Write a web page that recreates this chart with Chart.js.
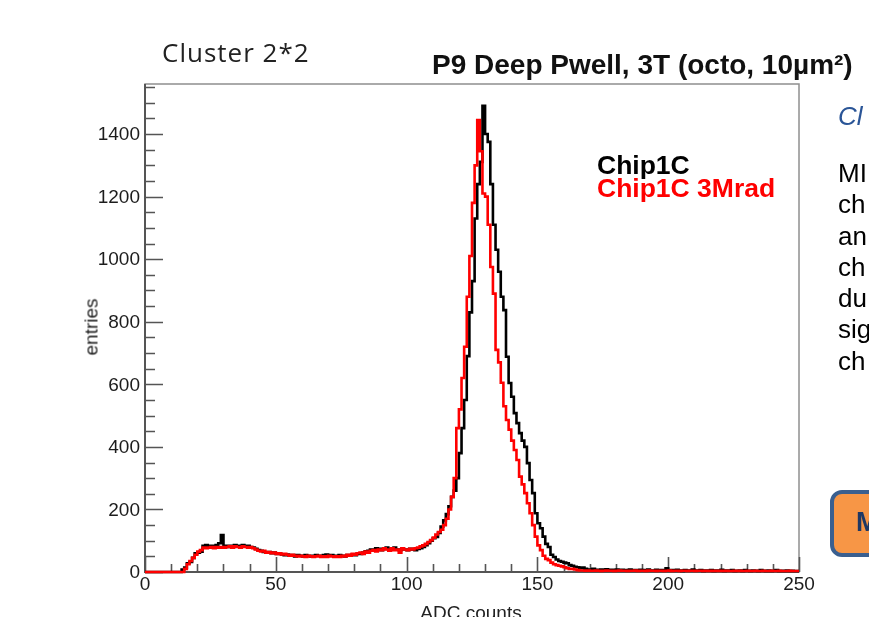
<!DOCTYPE html>
<html>
<head>
<meta charset="utf-8">
<title>P9 Deep Pwell, 3T</title>
<script src="https://cdn.jsdelivr.net/npm/chart.js@4.4.0/dist/chart.umd.min.js"></script>
<style>
  html, body { margin: 0; padding: 0; background: #fff; }
  body { width: 869px; height: 617px; position: relative; overflow: hidden; font-family: "Liberation Sans", Arial, sans-serif; }
  #histo { position: absolute; left: 0; top: 0; }
  .t { position: absolute; white-space: nowrap; line-height: 1; }
  #cluster { left: 162px; top: 39px; font-family: "Open Sans", sans-serif; font-size: 26px; letter-spacing: 1px; color: #222; }
  #title { left: 432px; top: 51px; font-size: 28px; font-weight: bold; color: #111; }
  .leg { left: 597px; font-size: 26.5px; font-weight: bold; }
  #ytitle { left: 91px; top: 327px; font-size: 19px; color: #222; transform: translate(-50%, -50%) rotate(-90deg); }
  #xtitle { left: 471px; top: 603px; font-size: 19px; color: #222; transform: translateX(-50%); }
  #side { left: 838px; top: 103px; }
  #side .sub { font-size: 26px; font-style: italic; color: #2a5597; line-height: 1; }
  #side .body { margin-top: 29px; font-size: 26px; line-height: 31.3px; color: #000; }
  #btn { position: absolute; left: 830px; top: 490px; width: 90px; height: 59px; background: #f79646; border: 4px solid #3a5f8f; border-radius: 12px; }
  #btn span { position: absolute; left: 22px; top: 15px; font-size: 27px; font-weight: bold; color: #1f3864; line-height: 1; }
</style>
</head>
<body>
<canvas id="histo" width="869" height="617"></canvas>

<div class="t" id="cluster">Cluster 2*2</div>
<div class="t" id="title">P9 Deep Pwell, 3T (octo, 10µm²)</div>
<div class="t leg" id="leg0" style="top:151.5px;color:#000">Chip1C</div>
<div class="t leg" id="leg1" style="top:174.5px;color:#ff0000">Chip1C 3Mrad</div>
<div class="t" id="ytitle">entries</div>
<div class="t" id="xtitle">ADC counts</div>
<div class="t" id="side">
  <div class="sub">Cl</div>
  <div class="body">MI<br>ch<br>an<br>ch<br>du<br>sig<br>ch</div>
</div>
<div id="btn"><span>M</span></div>

<script>
// ADC counts, 1 count per bin, bins 0..249
const seriesNames = ['Chip1C', 'Chip1C 3Mrad'];

const chip1c = [
    0, 0, 0, 0, 0, 0, 0, 0, 0, 0,
    0, 0, 0, 0, 0, 8, 14, 28, 32, 45,
    60, 62, 65, 84, 86, 80, 84, 82, 86, 92,
    118, 84, 80, 84, 80, 86, 82, 84, 86, 82,
    84, 80, 78, 74, 70, 68, 64, 62, 64, 60,
    62, 58, 60, 56, 54, 56, 52, 54, 50, 54,
    52, 50, 54, 52, 50, 52, 54, 52, 50, 54,
    56, 52, 54, 50, 52, 54, 52, 50, 54, 52,
    56, 54, 60, 58, 62, 66, 68, 72, 70, 76,
    74, 70, 74, 78, 72, 74, 78, 72, 70, 74,
    72, 70, 74, 72, 70, 74, 76, 80, 86, 92,
    100, 108, 112, 125, 145, 165, 185, 210, 240, 260,
    300, 380, 460, 550, 690, 830, 930, 1130, 1240, 1311,
    1490, 1400, 1375, 1240, 1110, 1030, 960, 880, 837, 688,
    604, 560, 508, 476, 444, 420, 400, 348, 294, 252,
    188, 156, 140, 113, 90, 80, 55, 48, 40, 35,
    33, 30, 28, 22, 20, 17, 15, 12, 14, 10,
    8, 6, 10, 7, 5, 8, 6, 9, 5, 7,
    6, 8, 5, 7, 4, 6, 8, 5, 6, 4,
    7, 5, 6, 8, 4, 5, 7, 5, 6, 4,
    12, 5, 6, 4, 7, 5, 3, 6, 4, 5,
    8, 4, 5, 6, 3, 5, 4, 6, 3, 5,
    4, 7, 3, 5, 4, 6, 3, 4, 5, 3,
    6, 4, 3, 5, 4, 3, 6, 4, 3, 5,
    3, 4, 6, 3, 4, 3, 5, 3, 4, 3
];

const chip1c3Mrad = [
    0, 0, 0, 0, 0, 0, 0, 0, 0, 0,
    0, 0, 0, 0, 0, 0, 10, 25, 35, 45,
    55, 65, 70, 78, 76, 78, 80, 76, 80, 78,
    80, 78, 80, 82, 78, 82, 80, 78, 82, 80,
    78, 80, 76, 72, 68, 66, 68, 62, 64, 60,
    62, 58, 60, 56, 58, 55, 52, 55, 52, 50,
    52, 50, 48, 52, 50, 48, 50, 52, 48, 50,
    48, 52, 50, 48, 50, 48, 52, 50, 55, 52,
    58, 55, 60, 62, 58, 65, 62, 68, 70, 66,
    72, 70, 76, 72, 68, 76, 70, 72, 62, 76,
    72, 70, 74, 72, 76, 78, 82, 85, 90, 96,
    102, 110, 120, 128, 135, 150, 170, 200, 240, 300,
    460, 520, 620, 720, 880, 1010, 1180, 1300, 1445, 1345,
    1210, 1200, 1110, 975, 890, 710, 670, 605, 530, 486,
    455, 420, 390, 358, 305, 280, 252, 220, 188, 150,
    113, 85, 70, 52, 42, 38, 30, 25, 22, 20,
    18, 15, 12, 10, 10, 8, 6, 5, 5, 4,
    5, 4, 4, 5, 4, 3, 4, 5, 4, 4,
    3, 4, 5, 4, 4, 3, 4, 4, 5, 3,
    4, 4, 3, 5, 4, 4, 3, 4, 4, 3,
    4, 5, 3, 4, 4, 3, 4, 4, 3, 4,
    4, 3, 4, 4, 3, 4, 3, 4, 3, 4,
    3, 4, 3, 4, 3, 3, 4, 3, 4, 3,
    3, 4, 3, 3, 4, 3, 3, 4, 3, 3,
    4, 3, 3, 4, 3, 3, 3, 4, 3, 3
];

const xTickValues = [0, 50, 100, 150, 200, 250];
const xTickLabels = ['0', '50', '100', '150', '200', '250'];
const yTickValues = [0, 200, 400, 600, 800, 1000, 1200, 1400];
const yTickLabels = ['0', '200', '400', '600', '800', '1000', '1200', '1400'];

const xMin = 0, xMax = 250, yMax = 1560;

// bin i -> step from i to i+1, closing edge at xMax
function toSteps(counts) {
    const pts = counts.map((c, i) => ({ x: i, y: c }));
    pts.push({ x: counts.length, y: counts[counts.length - 1] });
    return pts;
}

// ROOT style frame: ticks pointing inward, labels outside
const rootAxes = {
    id: 'rootAxes',
    beforeDatasetsDraw(chart) {
        const { ctx, chartArea: a, scales: { x, y } } = chart;
        ctx.save();
        ctx.lineCap = 'butt';

        ctx.strokeStyle = '#8f8f8f';
        ctx.lineWidth = 1.5;
        ctx.strokeRect(a.left, a.top, a.right - a.left, a.bottom - a.top);

        ctx.strokeStyle = '#555';
        ctx.lineWidth = 2;
        ctx.beginPath();
        ctx.moveTo(a.left, a.top);
        ctx.lineTo(a.left, a.bottom);
        ctx.lineTo(a.right, a.bottom);
        ctx.stroke();

        // x ticks: major every 50, minor every 10
        ctx.beginPath();
        for (let v = xMin; v <= xMax; v += 10) {
            const px = Math.round(x.getPixelForValue(v)) + 0.5;
            const len = v % 50 === 0 ? 15 : 8;
            ctx.moveTo(px, a.bottom);
            ctx.lineTo(px, a.bottom - len);
        }
        // y ticks: major every 200, minor every 50
        for (let v = 0; v <= yMax; v += 50) {
            const py = Math.round(y.getPixelForValue(v)) + 0.5;
            const len = v % 200 === 0 ? 18 : 10;
            ctx.moveTo(a.left, py);
            ctx.lineTo(a.left + len, py);
        }
        ctx.lineWidth = 1.6;
        ctx.stroke();

        ctx.fillStyle = '#1c1c1c';
        ctx.font = '19px "Liberation Sans", Arial, sans-serif';
        ctx.textAlign = 'center';
        ctx.textBaseline = 'middle';
        xTickValues.forEach((v, i) => {
            ctx.fillText(xTickLabels[i], x.getPixelForValue(v), a.bottom + 13);
        });
        ctx.textAlign = 'right';
        yTickValues.forEach((v, i) => {
            ctx.fillText(yTickLabels[i], a.left - 5, y.getPixelForValue(v) + 1);
        });
        ctx.restore();
    }
};

new Chart(document.getElementById('histo').getContext('2d'), {
    type: 'line',
    data: {
        datasets: [{
            label: seriesNames[0],
            data: toSteps(chip1c),
            borderColor: '#000',
            borderWidth: 2.6,
            stepped: 'after',
            pointRadius: 0,
            fill: false,
            order: 2,
            clip: 4
        }, {
            label: seriesNames[1],
            data: toSteps(chip1c3Mrad),
            borderColor: '#ff0000',
            borderWidth: 2.6,
            stepped: 'after',
            pointRadius: 0,
            fill: false,
            order: 1,
            clip: 4
        }]
    },
    options: {
        responsive: false,
        animation: false,
        devicePixelRatio: 1,
        layout: {
            padding: { left: 145, right: 70, top: 84, bottom: 45 }
        },
        plugins: {
            legend: { display: false },
            tooltip: { enabled: false }
        },
        scales: {
            x: { type: 'linear', min: xMin, max: xMax, display: false },
            y: { type: 'linear', min: 0, max: yMax, display: false }
        }
    },
    plugins: [rootAxes]
});
</script>
</body>
</html>
